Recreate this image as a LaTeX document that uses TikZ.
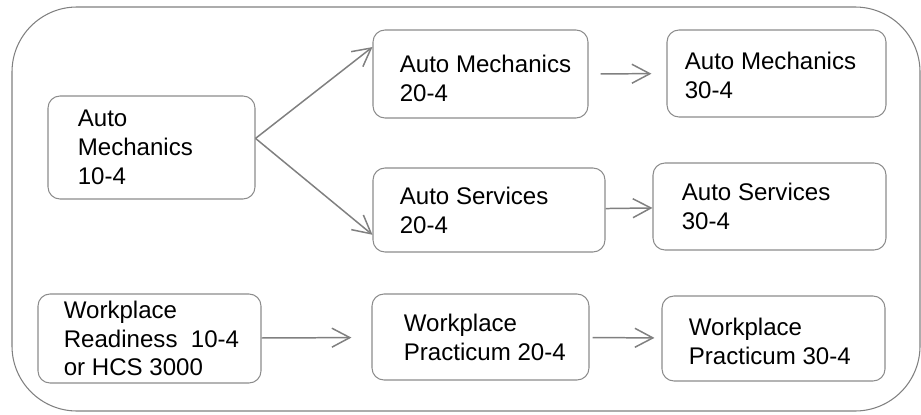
\documentclass[tikz,border=0pt]{standalone}
\usepackage{fontspec}
\setmainfont{Liberation Sans}
\usetikzlibrary{positioning,arrows.meta}

\begin{document}
\begin{tikzpicture} [frame/.style= {draw=gray, line width=0.6pt,
                                    rounded corners=1.3cm},
                     course/.style={draw=gray!90, line width=0.6pt,
                                    rounded corners=0.24cm, inner sep=0},
                     ctext/.style= {align=left, inner sep=0,
                                    font=\fontsize{13.7}{16.4}\selectfont},
                     flow/.style=  {draw=gray, line width=0.85pt,
                                    -{Straight Barb[length=3.6mm,width=3.8mm]}}]

\useasboundingbox (0,0) rectangle (18.42,-8.28);
\draw[frame] (0.24,-0.14) rectangle (18.40,-8.22);

\node[course, minimum width=4.14cm, minimum height=2.06cm] (am10) at (3.03,-2.95) {};
\node[ctext, right=0.60cm of am10.west] (am10t) {Auto\\Mechanics\\10-4};

\node[course, minimum width=4.30cm, minimum height=1.76cm] (am20) at (9.61,-1.48) {};
\node[ctext, right=0.54cm of am20.west, yshift=-0.09cm] (am20t) {Auto Mechanics\\20-4};

\node[course, minimum width=4.38cm, minimum height=1.74cm] (am30) at (15.53,-1.47) {};
\node[ctext, right=0.36cm of am30.west, yshift=-0.03cm] (am30t) {Auto Mechanics\\30-4};

\node[course, minimum width=4.64cm, minimum height=1.68cm] (as20) at (9.78,-4.20) {};
\node[ctext, right=0.54cm of as20.west] (as20t) {Auto Services\\20-4};

\node[course, minimum width=4.66cm, minimum height=1.74cm] (as30) at (15.39,-4.13) {};
\node[ctext, right=0.58cm of as30.west] (as30t) {Auto Services\\30-4};

\node[course, minimum width=4.46cm, minimum height=1.78cm] (wr) at (2.99,-6.77) {};
\node[ctext, right=0.52cm of wr.west] (wrt) {Workplace\\Readiness\ \ 10-4\\or HCS 3000};

\node[course, minimum width=4.34cm, minimum height=1.72cm] (wp20) at (9.61,-6.74) {};
\node[ctext, right=0.64cm of wp20.west] (wp20t) {Workplace\\Practicum 20-4};

\node[course, minimum width=4.46cm, minimum height=1.70cm] (wp30) at (15.47,-6.77) {};
\node[ctext, right=0.54cm of wp30.west, yshift=-0.05cm] (wp30t) {Workplace\\Practicum 30-4};

% arrows
\draw[flow] (am10.5) -- (am20.166);
\draw[flow] (am10.5) -- (as20.192);
\draw[flow, shorten <=0.24cm, shorten >=0.30cm] (am20) -- (am30);
\draw[flow] (as20) -- (as30);
\draw[flow, shorten >=0.40cm] (wr) -- (wp20);
\draw[flow, shorten <=0.06cm, shorten >=0.14cm] (wp20) -- (wp30);
\end{tikzpicture}
\end{document}
